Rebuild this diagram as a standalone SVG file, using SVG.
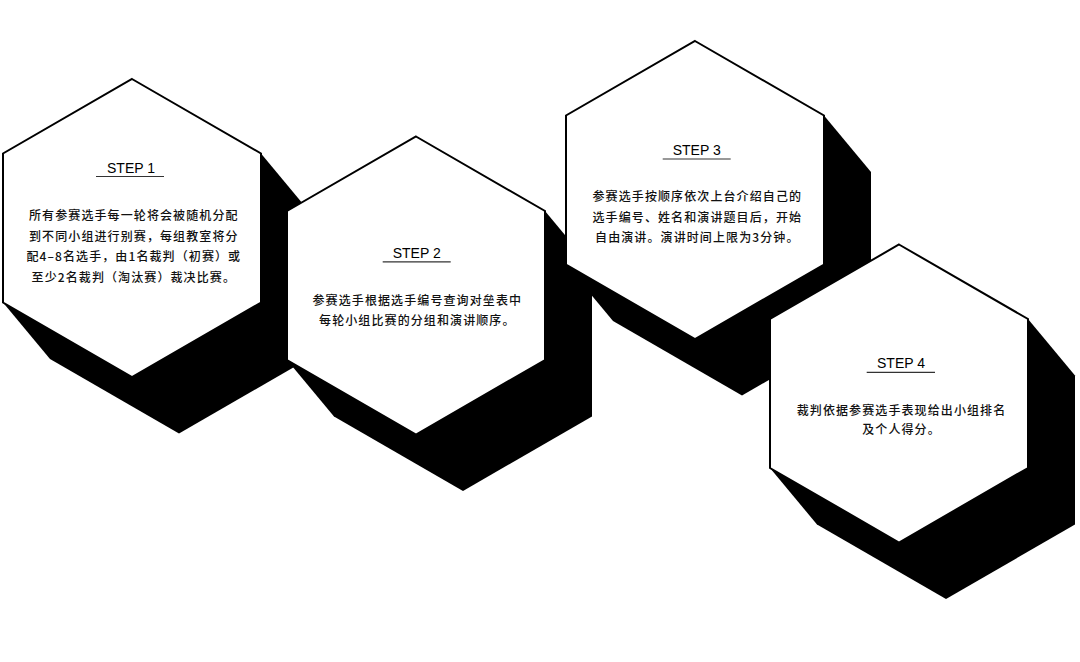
<svg xmlns="http://www.w3.org/2000/svg" xmlns:xlink="http://www.w3.org/1999/xlink" width="1080" height="662" viewBox="0 0 1080 662">
<style>
.shadow{fill:#000;stroke:none}
.hex{fill:#fff;stroke:#000;stroke-width:2;stroke-linejoin:miter}
.title{font-family:"Liberation Sans",Arial,"Noto Sans CJK SC",sans-serif;font-size:14px;fill:#000;text-anchor:middle}
.body{font-family:"Noto Sans CJK SC","Liberation Sans",sans-serif;font-size:12px;font-weight:500;fill:#111;text-anchor:middle;letter-spacing:1.1px}
.ul{stroke:#333;stroke-width:1.2}
</style>
<defs>
<polygon id="shadowShape" points="0,-149 129,-74.5 176,-18 176,131 47,205.5 -82,131 -129,74.5 -129,-74.5"/>
<polygon id="hexShape" points="0,-149 129,-74.5 129,74.5 0,149 -129,74.5 -129,-74.5"/>
</defs>
<rect width="1080" height="662" fill="#fff"/>
<g id="step1">
<use xlink:href="#shadowShape" href="#shadowShape" class="shadow" transform="translate(132,228)"/>
<use xlink:href="#hexShape" href="#hexShape" class="hex" transform="translate(132,228)"/>
<text class="title" x="131" y="173">STEP 1</text>
<line class="ul" x1="96" y1="176.5" x2="164" y2="176.5"/>
<text class="body" x="133.8" y="220">所有参赛选手每一轮将会被随机分配</text>
<text class="body" x="133.8" y="240.5">到不同小组进行别赛，每组教室将分</text>
<text class="body" x="133.8" y="261">配4–8名选手，由1名裁判（初赛）或</text>
<text class="body" x="133.8" y="281.5">至少2名裁判（淘汰赛）裁决比赛。</text>
</g>
<g id="step2">
<use xlink:href="#shadowShape" href="#shadowShape" class="shadow" transform="translate(416,285.5)"/>
<use xlink:href="#hexShape" href="#hexShape" class="hex" transform="translate(416,285.5)"/>
<text class="title" x="416.7" y="258.3">STEP 2</text>
<line class="ul" x1="382.7" y1="261.8" x2="450.7" y2="261.8"/>
<text class="body" x="417.3" y="304.5">参赛选手根据选手编号查询对垒表中</text>
<text class="body" x="417.3" y="324.5">每轮小组比赛的分组和演讲顺序。</text>
</g>
<g id="step3">
<use xlink:href="#shadowShape" href="#shadowShape" class="shadow" transform="translate(695,190)"/>
<use xlink:href="#hexShape" href="#hexShape" class="hex" transform="translate(695,190)"/>
<text class="title" x="696.7" y="155">STEP 3</text>
<line class="ul" x1="662.7" y1="159" x2="730.7" y2="159"/>
<text class="body" x="697.3" y="201">参赛选手按顺序依次上台介绍自己的</text>
<text class="body" x="697.3" y="221.5">选手编号、姓名和演讲题目后，开始</text>
<text class="body" x="697.3" y="242">自由演讲。演讲时间上限为3分钟。</text>
</g>
<g id="step4">
<use xlink:href="#shadowShape" href="#shadowShape" class="shadow" transform="translate(899,393.5)"/>
<use xlink:href="#hexShape" href="#hexShape" class="hex" transform="translate(899,393.5)"/>
<text class="title" x="901" y="368.3">STEP 4</text>
<line class="ul" x1="866.7" y1="372.3" x2="935" y2="372.3"/>
<text class="body" x="901.5" y="414.5">裁判依据参赛选手表现给出小组排名</text>
<text class="body" x="901.5" y="434">及个人得分。</text>
</g>
</svg>
